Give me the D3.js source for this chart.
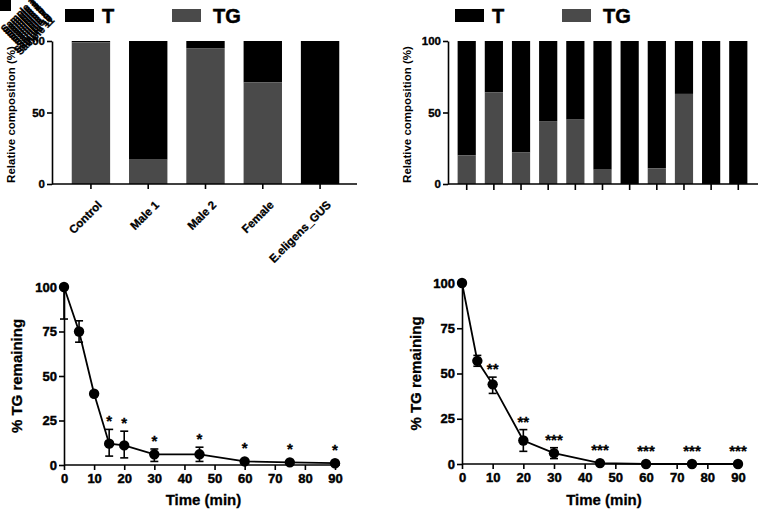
<!DOCTYPE html>
<html><head><meta charset="utf-8">
<script src="https://cdn.jsdelivr.net/npm/d3@7/dist/d3.min.js"></script>
<style>body{margin:0;background:#fff}svg{display:block;font-family:"Liberation Sans",Arial,sans-serif}</style>
</head><body><svg id="c" width="758" height="511"></svg>
<script>
// ---- data ----
const catsA = ["Control","Male 1","Male 2","Female","E.eligens_GUS"];
const tgA = [99, 17, 95, 71, 0];
const catsB = ["Sample 1","Sample 2","Sample 3","Sample 4","Sample 5","Sample 6","Sample 7","Sample 8","Sample 9","Sample 10","Sample 11"];
const tgB = [20, 64, 22, 44, 45, 10, 0, 11, 63, 0, 0];
const legendLabels = ["T","TG"];
const compTicks = [0, 50, 100];

const timeC = [0, 5, 10, 15, 20, 30, 45, 60, 75, 90];
const meanC = [100, 75, 40, 12, 11, 6, 6, 2, 1.5, 1];
const lowC  = [82, 69, 40, 5, 4, 2, 2, 2, 1.5, 1];
const highC = [118, 81, 40, 20, 19, 9, 10, 2, 1.5, 1];
const sigC  = ["", "", "", "*", "*", "*", "*", "*", "*", "*"];

const timeD = [0, 5, 10, 20, 30, 45, 60, 75, 90];
const meanD = [100, 57, 44, 13, 6, 0.5, 0, 0, 0];
const lowD  = [100, 54, 39, 7, 3, 0.5, 0, 0, 0];
const highD = [100, 60, 48, 19, 9, 0.5, 0, 0, 0];
const sigD  = ["", "", "**", "**", "***", "***", "***", "***", "***"];

const timeTicks = [0,10,20,30,40,50,60,70,80,90];
const pctTicks = [0,25,50,75,100];

const colT = "#000000", colTG = "#4a4a4a";
const svg = d3.select("#c");

function styleAxis(g, fs, heavy){
  g.selectAll("path,line").attr("stroke","#000").attr("stroke-width",1.6);
  g.selectAll("text").attr("font-weight","bold").attr("font-size",fs).attr("fill","#000")
    .attr("stroke", heavy ? "#000" : null).attr("stroke-width", heavy ? heavy : null);
}

// ---- stacked bar panel ----
function barPanel(cats, tg, x0, x1, axX, yTop, yBot, showLabels, legendX){
  const x = d3.scaleBand().domain(cats).range([x0, x1]).paddingInner(0.33).paddingOuter(0.17);
  const y = d3.scaleLinear().domain([0,100]).range([yBot, yTop]);
  const g = svg.append("g");
  cats.forEach((c,i)=>{
    g.append("rect").attr("x",x(c)).attr("width",x.bandwidth())
      .attr("y",y(100)).attr("height",y(tg[i])-y(100)).attr("fill",colT);
    g.append("rect").attr("x",x(c)).attr("width",x.bandwidth())
      .attr("y",y(tg[i])).attr("height",y(0)-y(tg[i])).attr("fill",colTG);
  });
  const ya = svg.append("g").attr("transform",`translate(${axX},0)`)
    .call(d3.axisLeft(y).tickValues(compTicks).tickSize(5).tickPadding(2).tickSizeOuter(0));
  styleAxis(ya, 11.5, 0.35);
  const xa = svg.append("g").attr("transform",`translate(0,${yBot})`)
    .call(d3.axisBottom(x).tickSize(showLabels?5:6).tickSizeOuter(0));
  xa.select(".domain").attr("d",`M${axX},0H${x1+8}`);
  styleAxis(xa, 11.5, 0.3);
  if(showLabels){
    xa.selectAll("text").attr("text-anchor","end").attr("dy","0")
      .attr("transform","translate(6,16) rotate(-45)");
  } else {
    xa.selectAll("text").remove();
  }
  svg.append("text").attr("transform",`translate(${axX-37},${(yTop+yBot)/2 + 2}) rotate(-90)`)
    .attr("text-anchor","middle").attr("font-weight","bold").attr("font-size",11.5)
    .text("Relative composition (%)");
  // legend
  const lg = svg.append("g");
  lg.append("rect").attr("x",legendX).attr("y",9).attr("width",29).attr("height",13).attr("fill",colT);
  lg.append("text").attr("x",legendX+37).attr("y",23).attr("font-weight","bold").attr("font-size",20)
    .attr("stroke","#000").attr("stroke-width",0.5).text(legendLabels[0]);
  lg.append("rect").attr("x",legendX+107).attr("y",9).attr("width",29).attr("height",13).attr("fill",colTG);
  lg.append("text").attr("x",legendX+148).attr("y",23).attr("font-weight","bold").attr("font-size",20)
    .attr("stroke","#000").attr("stroke-width",0.5).text(legendLabels[1]);
}

barPanel(catsA, tgA, 62, 349, 52, 41, 184, true, 65);
barPanel(catsB, tgB, 453, 752, 448, 41, 184, false, 455);

// overlapped labels in the top-left corner (labels of the right bar panel piled up)
const jg = svg.append("g");
jg.append("rect").attr("x",0).attr("y",0).attr("width",11).attr("height",11).attr("fill","#000");
catsB.forEach((c,i)=>{
  jg.append("text").attr("text-anchor","end")
    .attr("transform",`translate(${36 + i*1.9},${2 + i*1.9}) rotate(-45)`)
    .attr("font-weight","bold").attr("font-size",10).attr("stroke","#000").attr("stroke-width",0.4).text(c);
});

// ---- line panels ----
function linePanel(t, m, lo, hi, sig, x0, x1, yTop, yBot, labX){
  const x = d3.scaleLinear().domain([0,90]).range([x0, x1]);
  const y = d3.scaleLinear().domain([0,100]).range([yBot, yTop]);
  const xa = svg.append("g").attr("transform",`translate(0,${yBot})`)
    .call(d3.axisBottom(x).tickValues(timeTicks).tickSize(5).tickPadding(4).tickSizeOuter(0));
  xa.select(".domain").attr("d",`M${x0},0H${x1+5}`);
  styleAxis(xa, 13, 0.45);
  const ya = svg.append("g").attr("transform",`translate(${x0},0)`)
    .call(d3.axisLeft(y).tickValues(pctTicks).tickSize(5).tickPadding(2).tickSizeOuter(0));
  styleAxis(ya, 13, 0.45);
  const g = svg.append("g");
  g.append("path").datum(t.map((d,i)=>[d,m[i]]))
    .attr("d", d3.line().x(d=>x(d[0])).y(d=>y(d[1])))
    .attr("fill","none").attr("stroke","#000").attr("stroke-width",1.8);
  t.forEach((d,i)=>{
    const cx = x(d);
    const yl = y(lo[i]), yh = Math.max(y(hi[i]), yTop - 2);
    if(hi[i] - lo[i] > 0.6){
      g.append("line").attr("x1",cx).attr("x2",cx).attr("y1",yl).attr("y2",yh).attr("stroke","#000").attr("stroke-width",1.6);
      g.append("line").attr("x1",cx-4).attr("x2",cx+4).attr("y1",yl).attr("y2",yl).attr("stroke","#000").attr("stroke-width",1.6);
      if(y(hi[i]) >= yTop - 1)
        g.append("line").attr("x1",cx-4).attr("x2",cx+4).attr("y1",yh).attr("y2",yh).attr("stroke","#000").attr("stroke-width",1.6);
    }
    g.append("circle").attr("cx",cx).attr("cy",y(m[i])).attr("r",5.2).attr("fill","#000");
    if(sig[i]){
      g.append("text").attr("x",cx).attr("y",Math.min(y(hi[i]), y(m[i])-5)-3)
        .attr("text-anchor","middle").attr("font-weight","bold").attr("font-size",15)
        .attr("stroke","#000").attr("stroke-width",0.3).text(sig[i]);
    }
  });
  svg.append("text").attr("x",(x0+x1)/2+4).attr("y",505).attr("text-anchor","middle")
    .attr("font-weight","bold").attr("font-size",15).attr("stroke","#000").attr("stroke-width",0.3).text("Time (min)");
  svg.append("text").attr("transform",`translate(${labX},${(yTop+yBot)/2}) rotate(-90)`)
    .attr("text-anchor","middle").attr("font-weight","bold").attr("font-size",15)
    .attr("stroke","#000").attr("stroke-width",0.3).text("% TG remaining");
}

linePanel(timeC, meanC, lowC, highC, sigC, 64, 335, 287, 465, 22);
linePanel(timeD, meanD, lowD, highD, sigD, 462, 738, 283, 464, 421);
</script></body></html>
